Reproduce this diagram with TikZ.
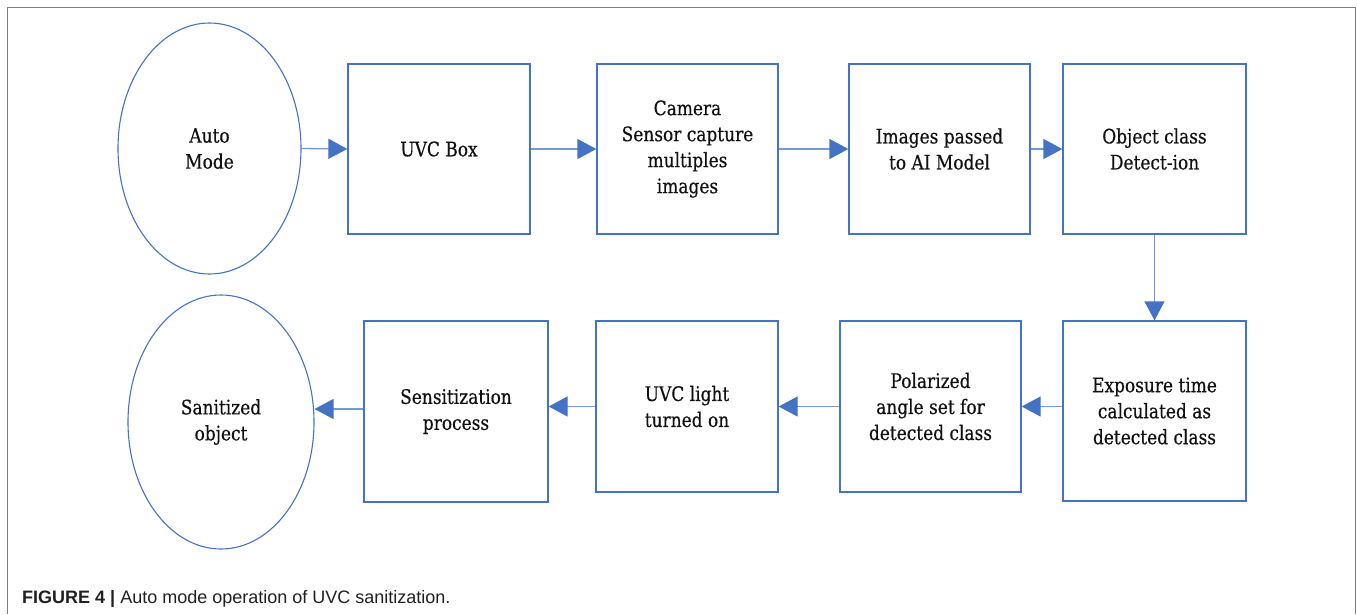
\documentclass[tikz,border=0pt]{standalone}
\usepackage{fontspec}
\newfontfamily\boxfont[FakeStretch=0.85,FakeBold=0.4]{DejaVu Serif}
\newfontfamily\capfont{Liberation Sans}
\usetikzlibrary{arrows.meta,shapes.geometric}
\definecolor{flowblue}{HTML}{4472C4}
\definecolor{linkblue}{HTML}{7497D8}
\definecolor{framegray}{HTML}{7F7F7F}
\definecolor{captext}{HTML}{231F20}
\definecolor{labeltext}{HTML}{111111}
\begin{document}
\begin{tikzpicture}[x=1pt,y=-1pt,
  boxtext/.style={font=\boxfont\fontsize{20}{26}\selectfont, text=labeltext},
  stepbox/.style={draw=flowblue, line width=1.3pt, align=center,
    inner sep=0pt, boxtext},
  terminal/.style={ellipse, draw=flowblue, line width=1.1pt, align=center,
    inner sep=0pt, boxtext},
  link/.style={draw=linkblue, line width=1.3pt,
    -{Triangle[length=19pt,width=20pt,fill=flowblue,color=flowblue]}}]

\useasboundingbox (0,0) rectangle (1357,614);

% outer frame, open at the bottom
\draw[framegray, line width=1.6pt] (7.5,614) -- (7.5,7.5) -- (1355.5,7.5) -- (1355.5,614);

% top row
\node[terminal, minimum width=183pt, minimum height=251pt] (auto) at (209.5,148.5) {Auto\\Mode};
\node[stepbox, minimum width=182pt, minimum height=170pt] (uvc) at (439,149) {UVC Box};
\node[stepbox, minimum width=181pt, minimum height=170pt] (cam) at (687.5,149) {Camera\\Sensor capture\\multiples\\images};
\node[stepbox, minimum width=181pt, minimum height=170pt] (img) at (939.5,149) {Images passed\\to AI Model};
\node[stepbox, minimum width=183pt, minimum height=170pt] (obj) at (1154.5,149) {Object class\\Detect-ion};

% bottom row
\node[stepbox, minimum width=183pt, minimum height=180pt] (exp) at (1154.5,411) {Exposure time\\calculated as\\detected class};
\node[stepbox, minimum width=181pt, minimum height=171pt] (pol) at (930.5,406.5) {Polarized\\angle set for\\detected class};
\node[stepbox, minimum width=182pt, minimum height=171pt] (lit) at (687,406.5) {UVC light\\turned on};
\node[stepbox, minimum width=184pt, minimum height=181pt] (sen) at (456,411.5) {Sensitization\\process};
\node[terminal, minimum width=186pt, minimum height=254pt] (sant) at (221,422) {Sanitized\\object};

% connectors
\draw[link] (auto.east) -- (uvc.west);
\draw[link] (uvc.east) -- (cam.west);
\draw[link] (cam.east) -- (img.west);
\draw[link] (img.east) -- (obj.west);
\draw[link] (obj.south) -- (exp.north);
\draw[link] (exp.west |- pol.east) -- (pol.east);
\draw[link] (pol.west) -- (lit.east);
\draw[link] (lit.west) -- (sen.east |- lit.west);
\draw[link] (sen.west |- 0,409) -- (sant.east |- 0,409);

% caption
\node[anchor=base west, inner sep=0pt, text=captext,
  font=\capfont\fontsize{18}{20}\selectfont] (caption) at (22,603)
  {\textbf{FIGURE 4 |} Auto mode operation of UVC sanitization.};
\end{tikzpicture}
\end{document}
